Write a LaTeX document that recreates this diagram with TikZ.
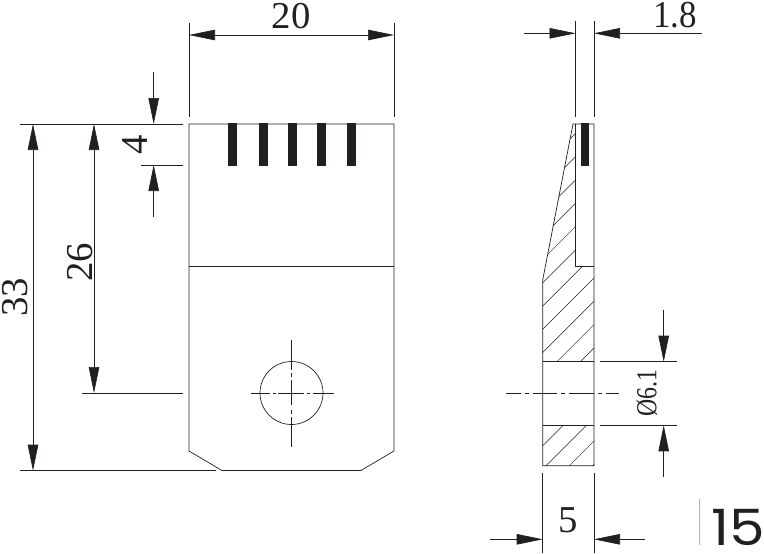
\documentclass[tikz,border=0pt]{standalone}
\usepackage{fontspec}
\setmainfont{Liberation Serif}
\newfontfamily\numfont{Poppins}
\usetikzlibrary{arrows.meta}
\definecolor{ink}{HTML}{231F20}
\definecolor{pagered}{HTML}{F09A9A}
\tikzset{
  part/.style={draw=ink,line width=0.7pt,line join=miter},
  thin line/.style={draw=ink,line width=0.7pt},
  hatch/.style={draw=ink,line width=0.5pt},
  dim/.style={draw=ink,line width=0.7pt,{Triangle[length=26pt,width=10.5pt,fill=ink]}-{Triangle[length=26pt,width=10.5pt,fill=ink]}},
  dimend/.style={draw=ink,line width=0.7pt,-{Triangle[length=26pt,width=10.5pt,fill=ink]}},
  slot/.style={fill=ink,draw=none},
  label/.style={inner sep=0pt,text=ink,font=\fontsize{38}{38}\selectfont,xscale=1.02},
  labelnarrow/.style={inner sep=0pt,text=ink,font=\fontsize{38}{38}\selectfont,xscale=0.92},
  labelsmall/.style={inner sep=0pt,text=ink,font=\fontsize{29}{29}\selectfont,xscale=0.82}
}
\begin{document}
\begin{tikzpicture}[x=1pt,y=-1pt]
\useasboundingbox (0,0) rectangle (764,554);
% front view
\draw[part] (189,124) -- (394,124) -- (394,451) -- (361,470.5) -- (222,470.5) -- (189,451) -- cycle;
\draw[part] (189,266.5) -- (394,266.5);
\foreach \x in {228,259,288,317,347}
  \fill[slot] (\x,123) rectangle (\x+8.5,166);
\draw[part] (291.5,393) circle (31.5);
\foreach \a/\b in {251/270,273/276,278/304,307/310,313/334}
  \draw[thin line] (\a,393.5) -- (\b,393.5);
\foreach \a/\b in {340/370,373/377,380/405,410/414,417/447}
  \draw[thin line] (291.5,\a) -- (291.5,\b);
% side view
\draw[part] (575.5,124) -- (575.5,266.7) -- (594,266.7);
\draw[part] (573,124) -- (594,124) -- (594,465.7) -- (542.7,465.7) -- (542.7,280) -- cycle;
\draw[part] (542.7,361.7) -- (594,361.7);
\draw[part] (542.7,425.3) -- (594,425.3);
\fill[slot] (581,123) rectangle (589.3,166);
\begin{scope}
  \clip (573,124) -- (575.5,124) -- (575.5,266.7) -- (594,266.7) -- (594,361.7) -- (542.7,361.7) -- (542.7,280) -- cycle;
  \foreach \k in {-14,...,4}
    \draw[hatch] ({872+23.3*\k-700},700) -- ({872+23.3*\k},0);
\end{scope}
\begin{scope}
  \clip (542.7,425.3) rectangle (594,465.7);
  \foreach \k in {4,...,9}
    \draw[hatch] ({872+23.3*\k-700},700) -- ({872+23.3*\k},0);
\end{scope}
\foreach \a/\b in {506/521,525/529,533/557,561/565,569/594,598/602,606/619}
  \draw[thin line] (\a,393.2) -- (\b,393.2);
% extension lines
\draw[thin line] (189,22.7) -- (189,117.3);
\draw[thin line] (394,22.7) -- (394,117.3);
\draw[thin line] (575.5,20.7) -- (575.5,117.3);
\draw[thin line] (594,20.7) -- (594,117.3);
\draw[thin line] (20,124) -- (182.7,124);
\draw[thin line] (141,165) -- (182.7,165);
\draw[thin line] (82,393) -- (182.7,393);
\draw[thin line] (20,470.7) -- (215.7,470.7);
\draw[thin line] (600,361.7) -- (677,361.7);
\draw[thin line] (600,425.3) -- (677,425.3);
\draw[thin line] (542.7,472.7) -- (542.7,552.7);
\draw[thin line] (594,472.7) -- (594,552.7);
% dimension lines
\draw[dim] (189,35) -- (394,35);
\draw[dim] (33,124) -- (33,470.7);
\draw[dim] (94,124) -- (94,393);
\draw[dimend] (153.7,72.3) -- (153.7,124);
\draw[dimend] (153.7,216.7) -- (153.7,165);
\draw[dimend] (524,33.3) -- (575.5,33.3);
\draw[dimend] (701.7,33.3) -- (594,33.3);
\draw[dimend] (663.7,310) -- (663.7,361.7);
\draw[dimend] (663.7,476.7) -- (663.7,425.3);
\draw[dimend] (490,539.3) -- (542.7,539.3);
\draw[dimend] (645,539.3) -- (594,539.3);
% labels
\node[label] (d20) at (291,16.5) {20};
\node[labelnarrow] (d18) at (675,15.5) {1.8};
\node[rotate=90,label] (d33) at (15.5,297.5) {33};
\node[rotate=90,label] (d26) at (80,262) {26};
\node[rotate=90,label] (d4) at (135,145) {4};
\node[label] (d5) at (568,520) {5};
\node[rotate=90,labelsmall] (d61) at (647,393) {Ø6.1};
\draw[draw=pagered,line width=1pt] (699,499.3) -- (699,545);
\node[inner sep=0pt,text=ink,font=\numfont\fontsize{50}{50}\selectfont,xscale=1.13] (page) at (738.5,527) {15};
\end{tikzpicture}
\end{document}
